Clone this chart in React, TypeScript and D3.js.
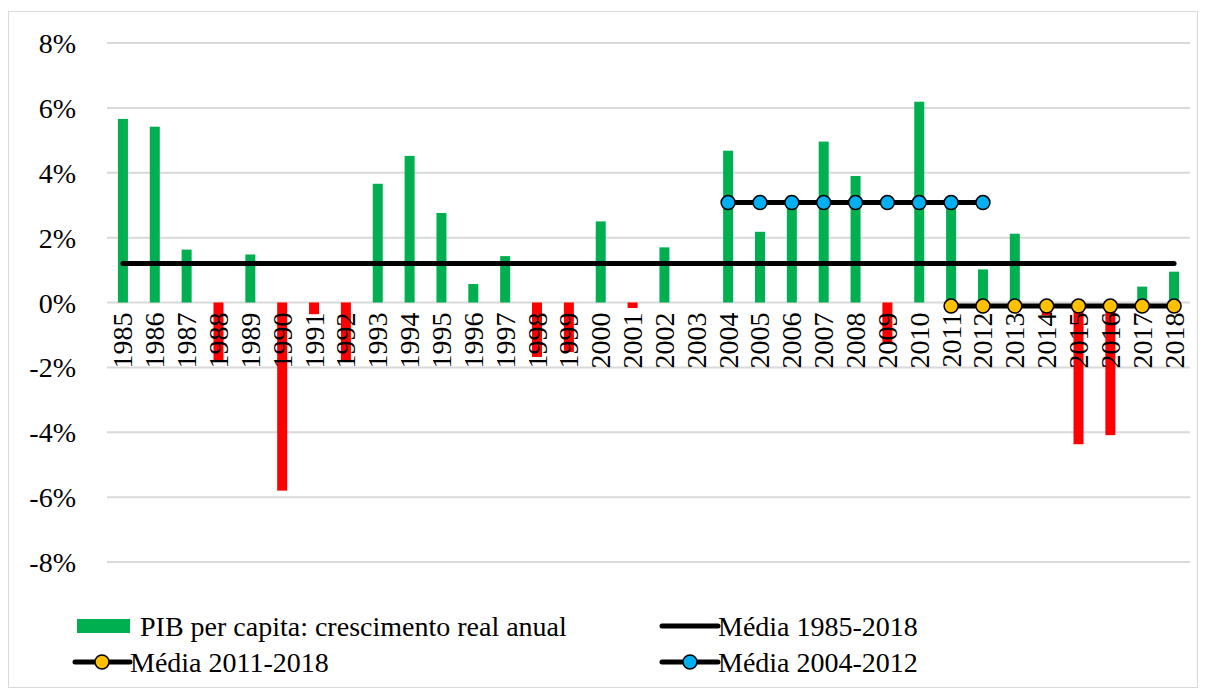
import React from "react";
import { scaleBand, scaleLinear, line } from "d3";

const years = [
  "1985", "1986", "1987", "1988", "1989", "1990", "1991", "1992", "1993", "1994",
  "1995", "1996", "1997", "1998", "1999", "2000", "2001", "2002", "2003", "2004",
  "2005", "2006", "2007", "2008", "2009", "2010", "2011", "2012", "2013", "2014",
  "2015", "2016", "2017", "2018",
];

// PIB per capita: crescimento real anual (%)
const growth = [
  5.66, 5.42, 1.63, -1.81, 1.48, -5.8, -0.36, -1.78, 3.66, 4.52,
  2.76, 0.57, 1.43, -1.68, -1.53, 2.5, -0.17, 1.7, 0, 4.68,
  2.18, 2.95, 4.96, 3.9, -1.26, 6.19, 2.95, 1.02, 2.12, -0.4,
  -4.37, -4.09, 0.49, 0.95,
];

const mean1985 = { from: "1985", to: "2018", value: 1.2 };
const mean2004 = { from: "2004", to: "2012", value: 3.08 };
const mean2011 = { from: "2011", to: "2018", value: -0.11 };

const yTicks = [-8, -6, -4, -2, 0, 2, 4, 6, 8];

const App = () => {
  const width = 1206;
  const height = 692;
  const margin = { top: 43, right: 16, bottom: 130, left: 107 };
  const innerRight = width - margin.right;
  const innerBottom = height - margin.bottom;

  const xScale = scaleBand<string>()
    .domain(years)
    .range([margin.left, innerRight])
    .paddingInner(0.686)
    .paddingOuter(0.343);

  const yScale = scaleLinear().domain([-8, 8]).range([innerBottom, margin.top]);

  const cx = (y: string) => (xScale(y) ?? 0) + xScale.bandwidth() / 2;

  const seg = (m: { from: string; to: string; value: number }) => {
    const i0 = years.indexOf(m.from);
    const i1 = years.indexOf(m.to);
    return years.slice(i0, i1 + 1).map((y) => ({ year: y, value: m.value }));
  };

  const lineGen = line<{ year: string; value: number }>()
    .x((d) => cx(d.year))
    .y((d) => yScale(d.value));

  const font = "Liberation Serif, DejaVu Serif, serif";

  return (
    <svg
      width={width}
      height={height}
      style={{ position: "absolute", left: 0, top: 0, background: "#fff", fontFamily: font }}
    >
      <rect x={8.5} y={11.5} width={1189} height={676} fill="#fff" stroke="#d9d9d9" strokeWidth={1} />

      {/* grid + y axis labels */}
      {yTicks.map((t) => (
        <g key={t}>
          <line
            x1={margin.left}
            x2={innerRight}
            y1={yScale(t)}
            y2={yScale(t)}
            stroke="#d9d9d9"
            strokeWidth={2}
          />
          <text x={76} y={yScale(t) + 10} textAnchor="end" fontSize={28} fill="#000" style={{ fontFamily: font }}>
            {`${t}%`}
          </text>
        </g>
      ))}

      {/* bars */}
      {years.map((y, i) => {
        const v = growth[i];
        return (
          <rect
            key={y}
            x={xScale(y)}
            y={yScale(Math.max(0, v))}
            width={xScale.bandwidth()}
            height={Math.abs(yScale(v) - yScale(0))}
            fill={v >= 0 ? "#00b050" : "#ff0000"}
          />
        );
      })}

      {/* x labels */}
      {years.map((y) => (
        <text
          key={y}
          transform={`translate(${cx(y) + 9.5},${yScale(0) + 10}) rotate(-90)`}
          textAnchor="end"
          fontSize={28}
          fill="#000"
          style={{ fontFamily: font }}
        >
          {y}
        </text>
      ))}

      {/* mean lines */}
      <path d={lineGen(seg(mean1985)) ?? ""} fill="none" stroke="#000" strokeWidth={5} strokeLinecap="round" />
      <path d={lineGen(seg(mean2004)) ?? ""} fill="none" stroke="#000" strokeWidth={5} />
      {seg(mean2004).map((d) => (
        <circle key={d.year} cx={cx(d.year)} cy={yScale(d.value)} r={7} fill="#00b0f0" stroke="#000" strokeWidth={1.5} />
      ))}
      <path d={lineGen(seg(mean2011)) ?? ""} fill="none" stroke="#000" strokeWidth={5} />
      {seg(mean2011).map((d) => (
        <circle key={d.year} cx={cx(d.year)} cy={yScale(d.value)} r={7} fill="#ffc000" stroke="#000" strokeWidth={1.5} />
      ))}

      {/* legend */}
      <g fontSize={28} fill="#000" style={{ fontFamily: font }}>
        <rect x={77} y={619} width={53} height={14} fill="#00b050" />
        <text x={140} y={636}>PIB per capita: crescimento real anual</text>

        <line x1={662} x2={718} y1={626} y2={626} stroke="#000" strokeWidth={5} strokeLinecap="round" />
        <text x={718} y={636}>Média 1985-2018</text>

        <line x1={75} x2={130} y1={662} y2={662} stroke="#000" strokeWidth={5} strokeLinecap="round" />
        <circle cx={102} cy={662} r={7} fill="#ffc000" stroke="#000" strokeWidth={1.5} />
        <text x={130} y={672}>Média 2011-2018</text>

        <line x1={662} x2={718} y1={662} y2={662} stroke="#000" strokeWidth={5} strokeLinecap="round" />
        <circle cx={690} cy={662} r={7} fill="#00b0f0" stroke="#000" strokeWidth={1.5} />
        <text x={718} y={672}>Média 2004-2012</text>
      </g>
    </svg>
  );
};

export default App;
